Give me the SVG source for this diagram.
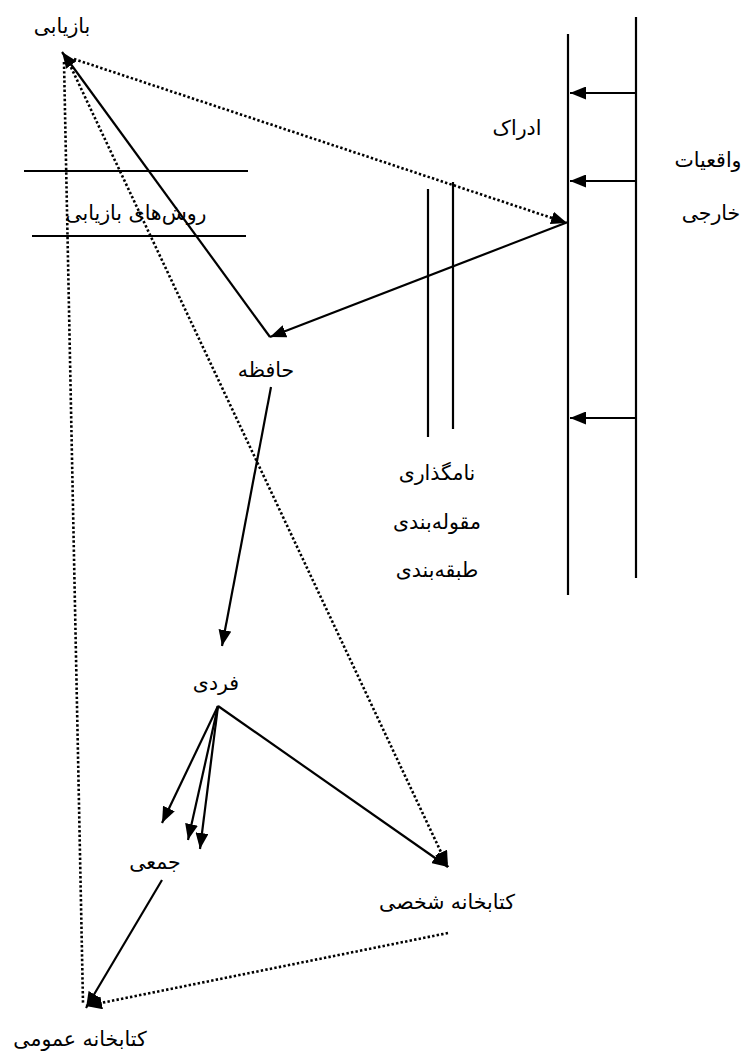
<svg xmlns="http://www.w3.org/2000/svg" width="750" height="1059" viewBox="0 0 750 1059">
<defs>
<marker id="ah" markerUnits="userSpaceOnUse" markerWidth="17" markerHeight="13" refX="16" refY="6.5" orient="auto">
<path d="M0,0 L16,6.5 L0,13 z" fill="#000"/>
</marker>
<style>
.s{stroke:#000;stroke-width:2.2;fill:none}
.d{stroke:#000;stroke-width:2.6;fill:none;stroke-dasharray:2.4 2.2}
.a{marker-end:url(#ah)}
text{font-family:"DejaVu Sans","Noto Sans",sans-serif;font-size:20.5px;fill:#000;text-anchor:middle}
</style>
</defs>
<rect width="750" height="1059" fill="#fff"/>
<g id="frame">
<line class="s" x1="568" y1="34" x2="568" y2="595"/>
<line class="s" x1="636" y1="17" x2="636" y2="578"/>
<line class="s" x1="428" y1="189" x2="428" y2="437"/>
<line class="s" x1="453" y1="182" x2="453" y2="429"/>
<line class="s" x1="24" y1="171" x2="248" y2="171"/>
<line class="s" x1="32" y1="236" x2="246" y2="236"/>
</g>
<g id="connectors">
<line class="s a" x1="636" y1="93" x2="570" y2="93"/>
<line class="s a" x1="636" y1="181" x2="570" y2="181"/>
<line class="s a" x1="636" y1="418" x2="570" y2="418"/>
<line class="d a" x1="74" y1="59" x2="567" y2="223"/>
<line class="s a" x1="568" y1="222" x2="270" y2="337"/>
<line class="s a" x1="270" y1="337" x2="62" y2="52"/>
<line class="d" x1="64" y1="62" x2="83" y2="1003"/>
<line class="d a" x1="69" y1="63" x2="448" y2="867"/>
<line class="s a" x1="271" y1="387" x2="222" y2="646"/>
<line class="s a" x1="218" y1="706" x2="162" y2="823"/>
<line class="s a" x1="218" y1="706" x2="188" y2="840"/>
<line class="s a" x1="218" y1="706" x2="200" y2="849"/>
<line class="s a" x1="218" y1="706" x2="448" y2="867"/>
<line class="s a" x1="162" y1="880" x2="86" y2="1008"/>
<line class="d a" x1="448" y1="933" x2="86" y2="1006"/>
</g>
<g id="n-bazyabi"><text x="62" y="33">بازیابی</text></g>
<g id="n-raveshha"><text x="136" y="220">روش‌های بازیابی</text></g>
<g id="n-edrak"><text x="517" y="135">ادراک</text></g>
<g id="n-vaqeiyat"><text x="708" y="167">واقعیات</text><text x="711" y="220">خارجی</text></g>
<g id="n-hafezeh"><text x="266" y="377">حافظه</text></g>
<g id="n-namgozari"><text x="437" y="480">نامگذاری</text><text x="437" y="529">مقوله‌بندی</text><text x="437" y="577">طبقه‌بندی</text></g>
<g id="n-fardi"><text x="216" y="690">فردی</text></g>
<g id="n-jamei"><text x="155" y="869">جمعی</text></g>
<g id="n-shakhsi"><text x="447" y="909">کتابخانه شخصی</text></g>
<g id="n-omumi"><text x="80" y="1046">کتابخانه عمومی</text></g>
</svg>
